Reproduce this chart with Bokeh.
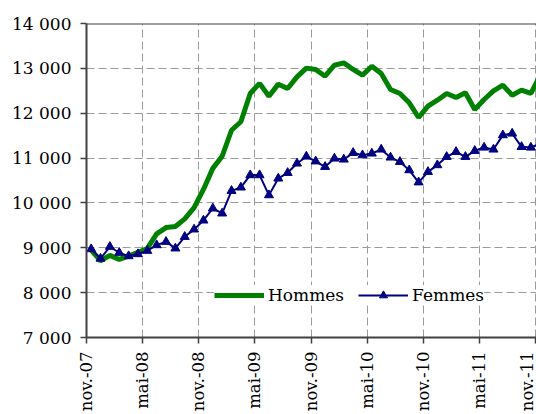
import math
from bokeh.plotting import figure
from bokeh.models import (ColumnDataSource, FixedTicker, Legend, LegendItem,
                          Span, Range1d)
from bokeh.embed import file_html
from bokeh.resources import INLINE

# ---- data ----
x_labels = ["nov.-07", "mai-08", "nov.-08", "mai-09", "nov.-09",
            "mai-10", "nov.-10", "mai-11", "nov.-11"]
y_ticks = [7000, 8000, 9000, 10000, 11000, 12000, 13000, 14000]

hommes = [8950, 8710, 8830, 8740, 8815, 8900, 8985, 9310, 9450, 9475,
          9645, 9895, 10300, 10770, 11040, 11620, 11810, 12440, 12665, 12380,
          12648, 12552, 12810, 13005, 12975, 12825, 13070, 13122, 12975, 12848,
          13048, 12885, 12529, 12440, 12231, 11905, 12157, 12291, 12440, 12351,
          12455, 12084, 12306, 12499, 12625, 12402, 12514, 12440, 12850]

femmes = [8971, 8760, 9023, 8889, 8815, 8860, 8934, 9060, 9134, 8987,
          9245, 9410, 9610, 9878, 9767, 10270, 10346, 10620, 10620, 10174,
          10546, 10671, 10880, 11035, 10928, 10805, 10991, 10969, 11117, 11065,
          11103, 11192, 11014, 10916, 10731, 10460, 10693, 10843, 11028, 11139,
          11028, 11162, 11236, 11192, 11511, 11548, 11250, 11236, 11320]

months = [i + 0.5 for i in range(len(hommes))]
src = ColumnDataSource(dict(x=months, hommes=hommes, femmes=femmes))

FONT = "DejaVu Serif"
FSIZE = "17px"

p = figure(width=536, height=414, output_backend="svg", toolbar_location=None,
           x_range=Range1d(0, 48.1), y_range=Range1d(7000, 14000),
           min_border_left=86, min_border_right=0, min_border_top=23,
           min_border_bottom=76)
p.background_fill_color = "white"
p.border_fill_color = "white"
p.outline_line_color = None

x_tick_pos = [6 * k for k in range(len(x_labels))]
p.xaxis.ticker = FixedTicker(ticks=x_tick_pos)
p.xaxis.major_label_overrides = {t: l for t, l in zip(x_tick_pos, x_labels)}
p.xaxis.major_label_orientation = math.pi / 2
p.yaxis.ticker = FixedTicker(ticks=y_ticks)
p.yaxis.major_label_overrides = {t: f"{t:,}".replace(",", " ") for t in y_ticks}

for ax in (p.xaxis, p.yaxis):
    ax.axis_line_color = "#404040"
    ax.axis_line_width = 2
    ax.major_tick_line_color = "#404040"
    ax.major_tick_line_width = 1.5
    ax.major_tick_out = 6
    ax.major_tick_in = 0
    ax.minor_tick_line_color = None
    ax.major_label_text_font = FONT
    ax.major_label_text_font_size = FSIZE
    ax.major_label_text_color = "black"
p.xaxis.major_label_text_font_size = "16.5px"
p.xaxis.major_label_standoff = 8
p.yaxis.major_label_standoff = 9

p.xgrid.ticker = FixedTicker(ticks=x_tick_pos)
p.ygrid.ticker = FixedTicker(ticks=y_ticks)
for g in (p.xgrid, p.ygrid):
    g.grid_line_color = "#9a9a9a"
    g.grid_line_dash = "8 4"
    g.grid_line_width = 1

p.add_layout(Span(location=14000, dimension="width", line_color="#404040",
                  line_width=2))

r_h = p.line("x", "hommes", source=src, line_color="#008000", line_width=5)
r_f = p.line("x", "femmes", source=src, line_color="#000080", line_width=2)
r_fm = p.scatter("x", "femmes", source=src, marker="triangle", size=9,
                 fill_color="#000080", line_color="#000080")

legend = Legend(items=[LegendItem(label="Hommes", renderers=[r_h]),
                       LegendItem(label="Femmes", renderers=[r_f, r_fm])],
                location=(128, 32), orientation="horizontal")
legend.background_fill_color = "white"
legend.background_fill_alpha = 1
legend.border_line_color = None
legend.glyph_width = 50
legend.glyph_height = 20
legend.label_standoff = 4
legend.spacing = 14
legend.padding = 6
legend.margin = 0
legend.label_text_font = FONT
legend.label_text_font_size = FSIZE
legend.label_text_color = "black"
p.add_layout(legend)

open("out.html", "w").write(file_html(p, INLINE))
